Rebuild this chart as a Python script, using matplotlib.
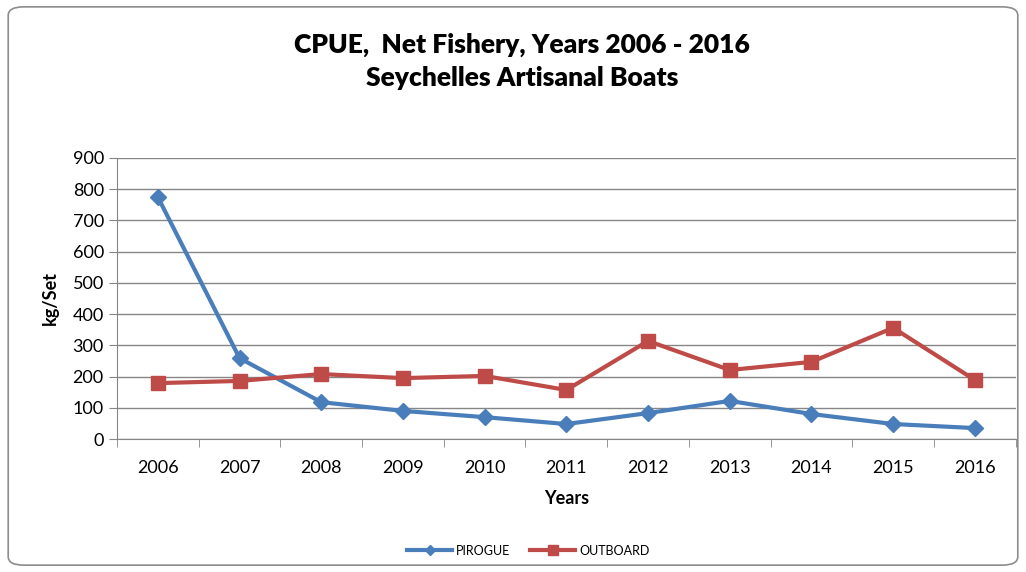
import numpy as np
import matplotlib.pyplot as plt
from matplotlib.patches import FancyBboxPatch

plt.rcParams['font.family'] = ['Lato', 'DejaVu Sans']

years = ["2006", "2007", "2008", "2009", "2010", "2011", "2012", "2013", "2014", "2015", "2016"]
pirogue = [775, 259, 118, 90, 70, 48, 83, 122, 80, 48, 35]
outboard = [179, 186, 208, 195, 202, 157, 314, 221, 247, 356, 189]

fig = plt.figure(figsize=(10.26, 5.72), dpi=100)

# rounded outer border like Excel chart area
border = FancyBboxPatch((0.008, 0.012), 0.984, 0.976, boxstyle="round,pad=0,rounding_size=0.015",
                        transform=fig.transFigure, facecolor="white", edgecolor="#8c8c8c",
                        linewidth=1.2, zorder=-10)
fig.patches.append(border)

ax = fig.add_axes([0.114, 0.2325, 0.876, 0.4913])
ax.patch.set_alpha(0)
x = np.arange(len(years))

ax.plot(x, pirogue, color="#4a7ebb", linewidth=3, marker="D", markersize=8, label="PIROGUE", zorder=3)
ax.plot(x, outboard, color="#be4b48", linewidth=3, marker="s", markersize=10, label="OUTBOARD", zorder=3)

ax.set_xlim(-0.5, len(years) - 0.5)
ax.set_ylim(0, 900)
ax.set_yticks(range(0, 901, 100))
ax.set_xticks(x)
ax.set_xticklabels(years, fontsize=13)
ax.set_xticks(np.arange(-0.5, len(years), 1), minor=True)
ax.tick_params(axis="x", which="major", length=0, pad=15)
ax.tick_params(axis="x", which="minor", length=6, color="#868686")
ax.tick_params(axis="y", length=6, color="#868686", labelsize=13)

ax.grid(axis="y", color="#868686", linewidth=1)
ax.set_axisbelow(True)
for s in ["top", "right"]:
    ax.spines[s].set_visible(False)
for s in ["left", "bottom"]:
    ax.spines[s].set_color("#868686")

ax.set_xlabel("Years", fontsize=13, fontweight="bold", labelpad=10)
ax.set_ylabel("kg/Set", fontsize=13, fontweight="bold", labelpad=10)

fig.text(0.509, 0.921, "CPUE,  Net Fishery, Years 2006 - 2016", ha="center", va="center",
         fontsize=19, fontweight="heavy")
fig.text(0.509, 0.863, "Seychelles Artisanal Boats", ha="center", va="center",
         fontsize=19, fontweight="heavy")

fig.legend(loc="center", bbox_to_anchor=(0.515, 0.037), ncol=2, frameon=False, fontsize=9,
           handlelength=3.6, handletextpad=0.3, columnspacing=1.6, markerscale=0.7)

fig.savefig("out.png", dpi=100)
